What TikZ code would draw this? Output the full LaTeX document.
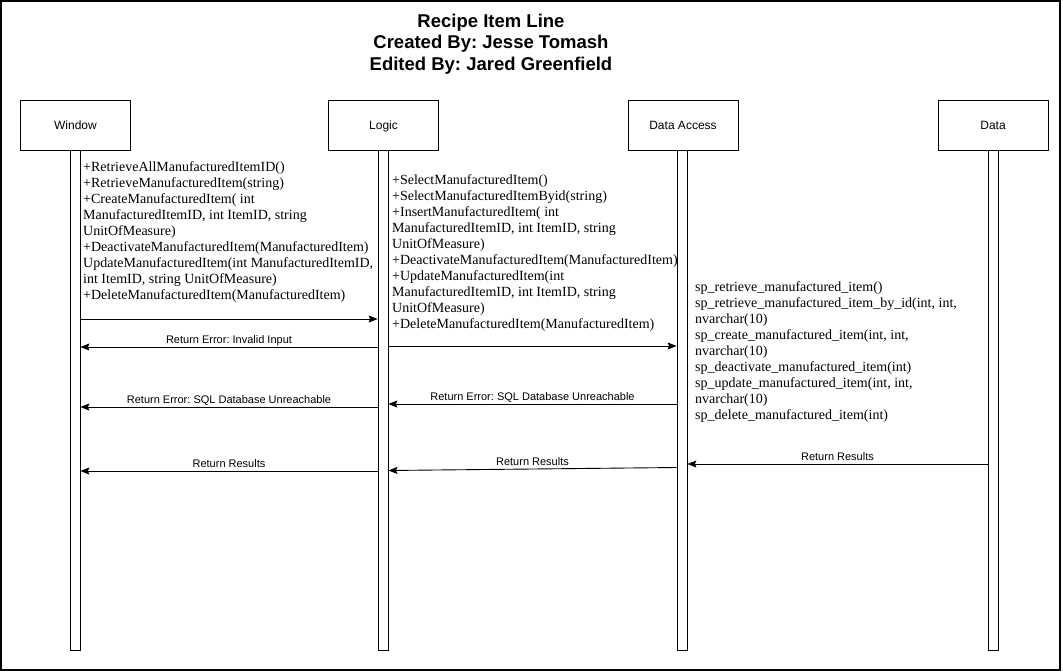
\documentclass[tikz,border=0pt]{standalone}
\usepackage{fontspec}
\setmainfont{Liberation Sans}
\newfontfamily\msgfont{Liberation Serif}
\usetikzlibrary{arrows.meta}
\frenchspacing
\tikzset{
  x=1pt, y=-1pt,
  actor/.style={draw, line width=0.8pt, minimum width=110pt, minimum height=50pt, inner sep=0pt, text height=8.6pt, text depth=0pt, font=\fontsize{12}{14}\selectfont},
  life/.style={draw, line width=0.8pt, minimum width=10pt, minimum height=500pt, inner sep=0pt},
  msgtext/.style={anchor=base west, inner sep=0pt, font=\msgfont\fontsize{14}{16}\selectfont},
  msg/.style={line width=0.9pt, -{Stealth[length=9pt,width=7pt,inset=1.5pt]}},
  lbl/.style={anchor=base, inner sep=0pt, yshift=4pt, font=\fontsize{11}{13}\selectfont}
}
\begin{document}
\frenchspacing
\begin{tikzpicture}
\useasboundingbox (0,0) rectangle (1063,672);
\draw[line width=1.3pt] (1,1) rectangle (1060,670);
% title
\node[anchor=base, inner sep=0pt, align=center, font=\bfseries\fontsize{18.5}{21.8}\selectfont] (title) at (491,27)
  {\begin{tabular}[t]{@{}c@{}}Recipe Item Line\\Created By: Jesse Tomash\\Edited By: Jared Greenfield\end{tabular}};
% actors
\node[actor] (w) at (75.5,125) {Window};
\node[actor] (l) at (383.5,125) {Logic};
\node[actor] (d) at (683,125) {Data Access};
\node[actor] (t) at (993,125) {Data};
% lifelines
\node[life] (wl) at (75,400) {};
\node[life] (ll) at (383,400) {};
\node[life] (dl) at (682,400) {};
\node[life] (tl) at (993,400) {};
% texts
\node[msgtext] (wt) at (83,171) {\begin{tabular}[t]{@{}l@{}}
+RetrieveAllManufacturedItemID()\\
+RetrieveManufacturedItem(string)\\
+CreateManufacturedItem( int\\
ManufacturedItemID, int ItemID, string\\
UnitOfMeasure)\\
+DeactivateManufacturedItem(ManufacturedItem)\\
UpdateManufacturedItem(int ManufacturedItemID,\\
int ItemID, string UnitOfMeasure)\\
+DeleteManufacturedItem(ManufacturedItem)
\end{tabular}};
\node[msgtext] (lt) at (392,184) {\begin{tabular}[t]{@{}l@{}}
+SelectManufacturedItem()\\
+SelectManufacturedItemByid(string)\\
+InsertManufacturedItem( int\\
ManufacturedItemID, int ItemID, string\\
UnitOfMeasure)\\
+DeactivateManufacturedItem(ManufacturedItem)\\
+UpdateManufacturedItem(int\\
ManufacturedItemID, int ItemID, string\\
UnitOfMeasure)\\
+DeleteManufacturedItem(ManufacturedItem)
\end{tabular}};
\node[msgtext] (dt) at (695,291.5) {\begin{tabular}[t]{@{}l@{}}
sp\_retrieve\_manufactured\_item()\\
sp\_retrieve\_manufactured\_item\_by\_id(int, int,\\
nvarchar(10)\\
sp\_create\_manufactured\_item(int, int,\\
nvarchar(10)\\
sp\_deactivate\_manufactured\_item(int)\\
sp\_update\_manufactured\_item(int, int,\\
nvarchar(10)\\
sp\_delete\_manufactured\_item(int)
\end{tabular}};
% messages
\draw[msg] (wl.east |- 0,319) -- (ll.west |- 0,319);
\draw[msg] (ll.west |- 0,347) -- node[lbl] {Return Error: Invalid Input} (wl.east |- 0,347);
\draw[msg] (ll.east |- 0,346) -- (dl.west |- 0,346);
\draw[msg] (ll.west |- 0,407) -- node[lbl] {Return Error: SQL Database Unreachable} (wl.east |- 0,407);
\draw[msg] (dl.west |- 0,404) -- node[lbl] {Return Error: SQL Database Unreachable} (ll.east |- 0,404);
\draw[msg] (ll.west |- 0,471) -- node[lbl] {Return Results} (wl.east |- 0,471);
\draw[msg] (dl.west |- 0,467.5) -- node[lbl] {Return Results} (ll.east |- 0,470.5);
\draw[msg] (tl.west |- 0,464) -- node[lbl] {Return Results} (dl.east |- 0,464);
\end{tikzpicture}
\end{document}
